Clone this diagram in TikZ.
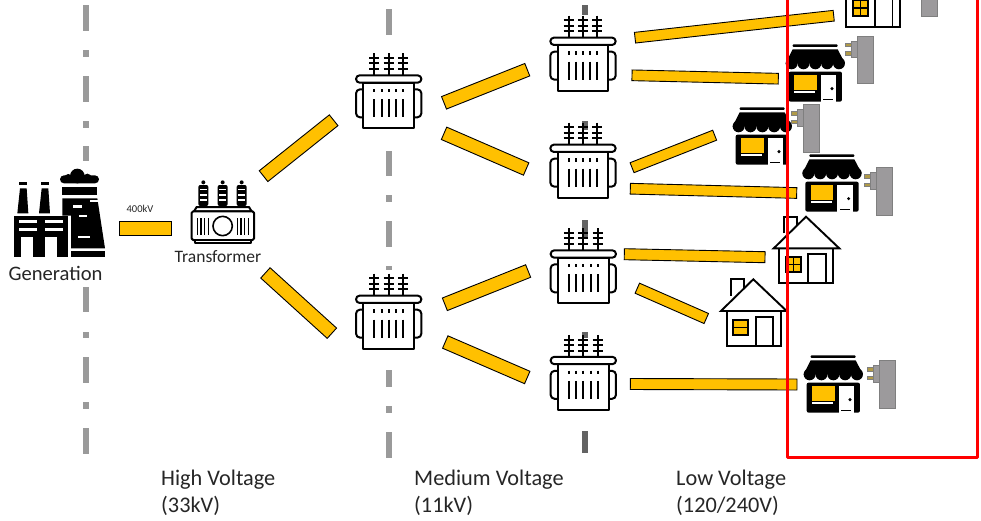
\documentclass[tikz,border=0pt]{standalone}
\usepackage{fontspec}
\setmainfont{Carlito}
\definecolor{wireY}{HTML}{FFC000}
\definecolor{dashA}{HTML}{9A9A9A}
\definecolor{dashB}{HTML}{636363}
\definecolor{plugG}{HTML}{9C9A9C}
\definecolor{plugE}{HTML}{7F7F7F}
\definecolor{prong}{HTML}{B09A48}
\definecolor{txt}{HTML}{262626}
\newcommand{\wirebar}[6]{%
  \pgfmathsetmacro{\wireang}{atan2(-(#5-#3),#4-#2)}%
  \pgfmathsetmacro{\wirelen}{veclen(#4-#2,#5-#3)}%
  \node[wirebox,minimum width=\wirelen pt,minimum height=#6 pt,rotate=\wireang] (#1) at ({(#2+#4)/2},{(#3+#5)/2}) {};}
\newcommand{\dashseg}[4]{\fill[#1] (#2-3.2,#3) rectangle (#2+3.2,#4);}
\tikzset{
  wirebox/.style={draw=black,line width=0.9pt,fill=wireY,inner sep=0pt,outer sep=0pt},
  label/.style={inner sep=0pt,anchor=base west,text=txt,align=left},
  zoomed/.style={x=0.33333pt,y=-0.33333pt},
  mvt/.pic={
    \begin{scope}[zoomed,line width=2pt,line join=round]
      \foreach \bx in {-43,0,43}{
        \draw (\bx,-77) -- (\bx,-12);
        \foreach \by in {-63,-47,-30}{\draw[line width=2pt] (\bx-15,\by) -- (\bx+15,\by);}
      }
      \draw[fill=white,rounded corners=4pt] (-98,31) rectangle (-60,115);
      \draw[fill=white,rounded corners=4pt] (60,31) rectangle (98,115);
      \draw[fill=white] (-76,11) rectangle (76,148);
      \draw[fill=white,rounded corners=3.6pt] (-98,-11) rectangle (98,11);
      \foreach \bx in {-43,-21,0,22,43}{
        \draw[line width=2pt] (\bx,30) -- (\bx,40);
        \draw[line width=2pt] (\bx,61) -- (\bx,115);
      }
    \end{scope}
  },
  shopicon/.pic={
    \begin{scope}[zoomed]
      \fill[rounded corners=1pt] (-68,0) rectangle (67,8);
      \fill (-68,15) -- (67,15) -- (89,57) -- (-89,57) -- cycle;
      \foreach \sx in {-71,-35.5,0,35.5,71}{\fill (\sx,57) circle (18);}
      \fill[rounded corners=2pt] (-80,82) -- (80,82) -- (80,172) -- (-80,172) -- cycle;
      \fill[wireY] (-64,92) rectangle (4,137);
      \fill[white] (-64,141) rectangle (0,147);
      \fill[white] (16,92) rectangle (62,172);
      \fill (50,133) circle (5);
      \fill (24,163) rectangle (54,168);
    \end{scope}
  },
  plugicon/.pic={
    \begin{scope}[zoomed,line width=0.8pt]
      \draw[draw=plugE,fill=prong] (-36,22) rectangle (-18,32);
      \draw[draw=plugE,fill=prong] (-36,47) rectangle (-18,57);
      \draw[draw=plugE,fill=plugG] (-18,15) rectangle (0,65);
      \draw[draw=plugE,fill=plugG] (0,0) rectangle (48,143);
    \end{scope}
  },
  housebase/.pic={
    \begin{scope}[zoomed,line width=1.9pt,line join=miter]
      \draw[fill=white] (-66,50) -- (-66,0) -- (-28,0) -- (-28,50);
      \draw[fill=white] (-80,95) rectangle (82,200);
      \draw[fill=white] (-97,95) -- (0,0) -- (100,95) -- cycle;
      \draw (7,200) -- (7,113) -- (59,113) -- (59,200);
      \draw[fill=wireY] (-60,121) rectangle (-15,167);
    \end{scope}
  },
  housecross/.pic={
    \pic {housebase};
    \begin{scope}[zoomed,line width=1.2pt]
      \draw (-37.5,121) -- (-37.5,167);
      \draw (-60,144) -- (-15,144);
    \end{scope}
  },
  housebar/.pic={
    \pic {housebase};
    \begin{scope}[zoomed,line width=1.2pt]
      \draw (-60,144) -- (-15,144);
    \end{scope}
  },
}
\begin{document}
\begin{tikzpicture}[x=1pt,y=-1pt]
\clip (0,0) rectangle (981,520);
\fill[white] (0,0) rectangle (981,520);
% vertical dash-dot lines
\foreach \a/\b in {5/31,50/57,76/101.5,121/127.5,146/161,287/312,332/338,357/383,402/409,428/453.5}{\dashseg{dashA}{86}{\a}{\b}}
\foreach \a/\b in {9.3/34.7,150.7/175.7,195/201.7,221/246.7,265.7/270,370/387.3,406/413,432/457.7}{\dashseg{dashA}{388.8}{\a}{\b}}
\foreach \a/\b in {5/15,120.7/130,219.5/236.5,332/338,431/453.3}{\dashseg{dashB}{585}{\a}{\b}}
% wires
\wirebar{w0}{119.3}{228.5}{171.3}{228.5}{13.6}
\wirebar{w1}{263.5}{176.2}{333.7}{120.2}{13.8}
\wirebar{w2}{265.3}{272.8}{332}{333.3}{13.9}
\wirebar{w3}{444}{102.8}{527.3}{69.7}{13.4}
\wirebar{w4}{444}{133.3}{526.2}{169}{13.5}
\wirebar{w5}{444.8}{304.3}{528.2}{271}{13.5}
\wirebar{w6}{445.2}{342}{527.3}{377.5}{13.5}
\wirebar{w7}{624.3}{254.2}{765}{257.2}{11}
\wirebar{w8}{637.3}{288.2}{706.3}{318.5}{11}
\wirebar{w9}{630.3}{384}{797}{384.5}{11}
\wirebar{w10}{635}{37.7}{833.7}{15.7}{10.7}
\wirebar{w11}{632}{75.3}{778.3}{78.7}{10.7}
\wirebar{w12}{632}{167.7}{714.7}{135.2}{10.7}
\wirebar{w13}{630.3}{188.7}{796.7}{193}{10.7}
% factory
\begin{scope}[shift={(0,150)},zoomed]
  \fill (57,95) rectangle (82,105);
  \fill (60,115) -- (80,115) -- (85,190) -- (52,190) -- cycle;
  \fill (122,95) rectangle (147,105);
  \fill (125,115) -- (145,115) -- (150,190) -- (117,190) -- cycle;
  \fill (42,197) rectangle (205,322);
  \fill[white] (58,210) rectangle (112,218);
  \fill[white] (135,210) rectangle (190,218);
  \fill[white] (58,235) rectangle (112,243);
  \fill[white] (135,235) rectangle (190,243);
  \fill[white] (62,262) rectangle (100,322);
  \fill[white] (135,262) rectangle (172,322);
  % tower
  \fill (232,78) circle (22);
  \fill (205,84) circle (12);
  \fill (262,84) circle (13);
  \fill[rounded corners=4pt] (180,76) rectangle (297,100);
  \fill (185,110) rectangle (292,135);
  \fill (187,145) -- (292,145) -- (315,295) -- (213,295) -- (213,197) -- (187,197) -- cycle;
  \fill (214,303) rectangle (314,322);
  \fill[white] (218,165) rectangle (245,173);
  \fill[white] (270,150) rectangle (293,156);
  \fill[white] (238,195) rectangle (260,202);
  \fill[white] (235,257) rectangle (270,265);
  % HV transformer
  \begin{scope}[line width=2pt,line join=round]
    \foreach \ix in {610,668,725}{
      \fill (\ix,97) circle (6);
      \fill[rounded corners=2pt] (\ix-15,105) rectangle (\ix+15,168);
      \foreach \iy in {118,134,150}{\fill[white] (\ix-11,\iy-2.5) rectangle (\ix+11,\iy+2.5);}
    }
    \draw[fill=white] (590,171) -- (747,171) -- (755,184) -- (582,184) -- cycle;
    \draw[fill=white,rounded corners=1.5pt] (575,184) rectangle (762,270);
    \draw[fill=white] (585,270) rectangle (752,279);
    \draw[line width=1.6pt] (668,228) circle (29);
    \foreach \rx in {592,603,614,625,712,723,734,745}{\draw[line width=1.6pt] (\rx,205) -- (\rx,255);}
  \end{scope}
\end{scope}
% medium and low transformers
\pic (t1) at (388.7,79) {mvt};
\pic (t2) at (388.7,299.3) {mvt};
\pic (t3) at (583,41.3) {mvt};
\pic (t4) at (583,148.3) {mvt};
\pic (t5) at (583.3,254) {mvt};
\pic (t6) at (583.3,360.5) {mvt};
% buildings
\pic (h0) at (872.8,-40) {housecross};
\pic (h1) at (806,216.7) {housecross};
\pic (h2) at (753.3,279.3) {housebar};
\pic (s1) at (815.3,44.3) {shopicon};
\pic (s2) at (762.3,107.3) {shopicon};
\pic (s3) at (832,154.3) {shopicon};
\pic (s4) at (833.3,355.3) {shopicon};
\pic (p0) at (921,-31) {plugicon};
\pic (p1) at (857.3,36) {plugicon};
\pic (p2) at (803.3,104.3) {plugicon};
\pic (p3) at (876.3,167.3) {plugicon};
\pic (p4) at (879.5,360.3) {plugicon};
% text
\node[label,font=\fontsize{20.6}{20.6}\selectfont,anchor=base] (gen) at (55.5,280.5) {Generation};
\node[label,font=\fontsize{17.5}{17.5}\selectfont,anchor=base] (tr) at (218,262.5) {Transformer};
\node[label,font=\fontsize{10.5}{10.5}\selectfont,anchor=base] (kv) at (140,212.7) {400kV};
\node[label,font=\fontsize{22.3}{26.5}\selectfont] (hv) at (161,512) {High Voltage\\(33kV)};
\node[label,font=\fontsize{22.3}{26.5}\selectfont] (mv) at (414,512) {Medium Voltage\\(11kV)};
\node[label,font=\fontsize{22.3}{26.5}\selectfont] (lv) at (676,512) {Low Voltage\\(120/240V)};
% red box
\draw[red,line width=2.4pt,line join=round] (787.5,-5) -- (787.5,457.5) -- (977.5,457.5) -- (977.5,-5);
\end{tikzpicture}
\end{document}
